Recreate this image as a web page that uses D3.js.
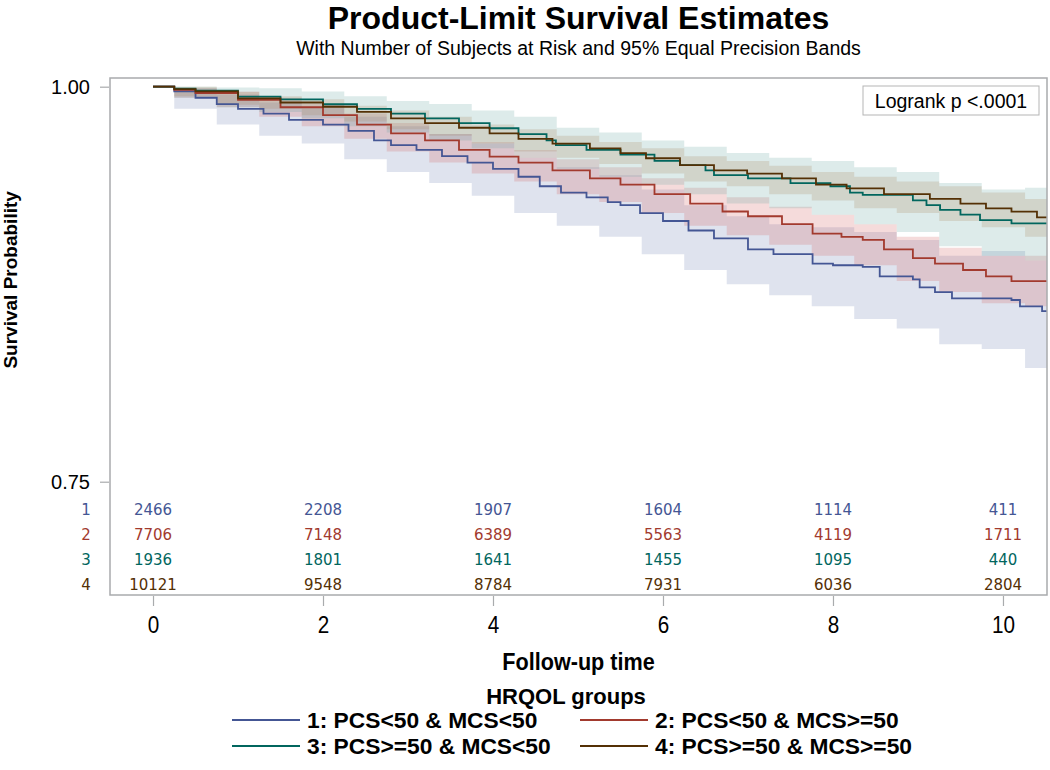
<!DOCTYPE html>
<html>
<head>
<meta charset="utf-8">
<script src="https://cdn.jsdelivr.net/npm/d3@7"></script>
<style>
  html, body { margin: 0; padding: 0; background: #fff; }
  svg { display: block; }
</style>
</head>
<body>
<svg id="chart" width="1050" height="770"></svg>
<script>
// ---------------- data ----------------
const groupIds = ["1", "2", "3", "4"];
const groupLabels = ["1: PCS<50 & MCS<50", "2: PCS<50 & MCS>=50", "3: PCS>=50 & MCS<50", "4: PCS>=50 & MCS>=50"];
const groupColors = ["#445694", "#A23A2E", "#01665E", "#543005"];
const bandColors = ["#6F7EB3", "#D05B5B", "#66A5A0", "#A9865B"];

const xTicks = [0, 2, 4, 6, 8, 10];
const yTicks = [0.75, 1.00];

// Number at risk at each x tick
const risk1 = [2466, 2208, 1907, 1604, 1114, 411];
const risk2 = [7706, 7148, 6389, 5563, 4119, 1711];
const risk3 = [1936, 1801, 1641, 1455, 1095, 440];
const risk4 = [10121, 9548, 8784, 7931, 6036, 2804];

// Kaplan-Meier step estimates (time, survival)
const time1 = [0, 0.25, 0.5, 0.75, 1.0, 1.3, 1.6, 2.0, 2.3, 2.6, 2.8, 3.1, 3.4, 3.7, 4.0, 4.3, 4.55, 4.8, 5.1, 5.35, 5.5, 5.73, 6.0, 6.3, 6.6, 7.0, 7.3, 7.76, 8.0, 8.35, 8.55, 8.94, 9.02, 9.2, 9.4, 10.1, 10.2, 10.46, 10.52];
const surv1 = [1.0, 0.997, 0.993, 0.989, 0.986, 0.983, 0.979, 0.976, 0.972, 0.966, 0.963, 0.960, 0.956, 0.952, 0.948, 0.943, 0.937, 0.933, 0.930, 0.927, 0.925, 0.920, 0.915, 0.909, 0.904, 0.897, 0.894, 0.888, 0.887, 0.886, 0.880, 0.878, 0.873, 0.870, 0.866, 0.865, 0.861, 0.858, 0.858];

const time2 = [0, 0.25, 0.5, 1.0, 1.5, 2.0, 2.4, 2.8, 3.2, 3.6, 3.96, 4.3, 4.7, 5.14, 5.5, 5.9, 6.32, 6.7, 7.0, 7.4, 7.76, 8.1, 8.35, 8.6, 8.94, 9.2, 9.53, 9.8, 10.1, 10.52];
const surv2 = [1.0, 0.998, 0.996, 0.9916, 0.987, 0.982, 0.976, 0.9705, 0.966, 0.960, 0.9557, 0.952, 0.947, 0.942, 0.938, 0.932, 0.926, 0.921, 0.918, 0.913, 0.907, 0.905, 0.903, 0.897, 0.8915, 0.888, 0.884, 0.880, 0.877, 0.8766];

const time3 = [0, 0.25, 0.5, 1.0, 1.5, 2.0, 2.4, 2.8, 3.2, 3.6, 3.96, 4.3, 4.63, 4.74, 5.1, 5.5, 5.9, 6.2, 6.5, 6.6, 7.0, 7.5, 7.97, 8.2, 8.35, 8.94, 9.1, 9.26, 9.5, 9.73, 10.1, 10.52];
const surv3 = [1.0, 0.9988, 0.9975, 0.9937, 0.992, 0.9889, 0.986, 0.983, 0.980, 0.977, 0.9737, 0.970, 0.966, 0.963, 0.960, 0.957, 0.953, 0.9504, 0.947, 0.944, 0.942, 0.939, 0.937, 0.933, 0.9315, 0.928, 0.925, 0.922, 0.919, 0.9156, 0.9135, 0.9135];

const time4 = [0, 0.25, 0.5, 1.0, 1.5, 2.0, 2.4, 2.8, 3.2, 3.6, 3.96, 4.3, 4.7, 5.14, 5.5, 5.8, 6.2, 6.6, 6.99, 7.4, 7.8, 8.16, 8.6, 9.14, 9.5, 9.8, 10.1, 10.4, 10.52];
const surv4 = [1.0, 0.9985, 0.997, 0.9926, 0.990, 0.9873, 0.984, 0.980, 0.977, 0.974, 0.9705, 0.967, 0.964, 0.961, 0.958, 0.9547, 0.9504, 0.947, 0.945, 0.942, 0.938, 0.9357, 0.932, 0.929, 0.926, 0.923, 0.9209, 0.9173, 0.9173];

// 95% equal precision bands (lower / upper) read on a common time grid
const bandTime = [0, 0.5, 1, 1.5, 2, 2.5, 3, 3.5, 4, 4.5, 5, 5.5, 6, 6.5, 7, 7.5, 8, 8.5, 9, 9.5, 10, 10.52];
const lower1 = [1.0, 0.986, 0.976, 0.969, 0.964, 0.954, 0.946, 0.939, 0.931, 0.920, 0.912, 0.905, 0.894, 0.884, 0.875, 0.868, 0.861, 0.853, 0.847, 0.837, 0.834, 0.822];
const upper1 = [1.0, 0.999, 0.995, 0.990, 0.987, 0.981, 0.975, 0.970, 0.964, 0.955, 0.949, 0.944, 0.935, 0.925, 0.918, 0.913, 0.911, 0.908, 0.903, 0.893, 0.896, 0.890];
const lower2 = [1.0, 0.993, 0.987, 0.981, 0.975, 0.967, 0.959, 0.952, 0.945, 0.940, 0.932, 0.927, 0.920, 0.912, 0.906, 0.900, 0.893, 0.887, 0.877, 0.870, 0.863, 0.861];
const upper2 = [1.0, 0.999, 0.997, 0.993, 0.989, 0.983, 0.977, 0.970, 0.965, 0.960, 0.954, 0.949, 0.942, 0.936, 0.930, 0.924, 0.919, 0.913, 0.905, 0.898, 0.893, 0.893];
const lower3 = [1.0, 0.993, 0.987, 0.984, 0.980, 0.975, 0.971, 0.966, 0.961, 0.955, 0.948, 0.943, 0.938, 0.932, 0.926, 0.923, 0.919, 0.913, 0.908, 0.899, 0.893, 0.890];
const upper3 = [1.0, 1.0, 0.9995, 0.999, 0.997, 0.994, 0.991, 0.989, 0.985, 0.981, 0.974, 0.971, 0.966, 0.962, 0.958, 0.955, 0.953, 0.949, 0.946, 0.939, 0.935, 0.936];
const lower4 = [1.0, 0.994, 0.9886, 0.986, 0.982, 0.978, 0.973, 0.969, 0.964, 0.959, 0.955, 0.951, 0.945, 0.940, 0.937, 0.932, 0.928, 0.923, 0.920, 0.915, 0.911, 0.905];
const upper4 = [1.0, 1.0, 0.9966, 0.994, 0.992, 0.988, 0.985, 0.981, 0.976, 0.973, 0.969, 0.965, 0.961, 0.956, 0.953, 0.950, 0.946, 0.943, 0.940, 0.937, 0.933, 0.929];

const titleText = "Product-Limit Survival Estimates";
const subtitleText = "With Number of Subjects at Risk and 95% Equal Precision Bands";
const xLabel = "Follow-up time";
const yLabel = "Survival Probability";
const legendTitle = "HRQOL groups";
const insetText = "Logrank p <.0001";

// ---------------- layout ----------------
const svg = d3.select("#chart");
const plot = { left: 110, right: 1047, top: 78, bottom: 595 };
const x = d3.scaleLinear().domain([-0.506, 10.518]).range([plot.left, plot.right]);
const y = d3.scaleLinear().domain([0.6783, 1.0055]).range([plot.bottom, plot.top]);
const sans = "'Liberation Sans', Arial, Helvetica, sans-serif";

const groups = [
  { t: time1, s: surv1, lo: lower1, up: upper1, risk: risk1 },
  { t: time2, s: surv2, lo: lower2, up: upper2, risk: risk2 },
  { t: time3, s: surv3, lo: lower3, up: upper3, risk: risk3 },
  { t: time4, s: surv4, lo: lower4, up: upper4, risk: risk4 }
];

// bold text helper with horizontal scaling
function boldText(parent, tx, ty, txt, size, anchor, sx) {
  return parent.append("text")
    .attr("transform", `translate(${tx},${ty}) scale(${sx},1)`)
    .attr("dy", "0.35em").attr("text-anchor", anchor)
    .style("font-family", sans).style("font-weight", "bold").style("font-size", size + "px")
    .text(txt);
}

svg.append("defs").append("clipPath").attr("id", "clip")
  .append("rect").attr("x", plot.left).attr("y", plot.top)
  .attr("width", plot.right - plot.left).attr("height", plot.bottom - plot.top);

// Titles
const titleX = (plot.left + plot.right) / 2;
svg.append("text").attr("x", titleX).attr("y", 29).attr("text-anchor", "middle")
  .style("font-family", sans).style("font-weight", "bold").style("font-size", "32px")
  .text(titleText);
svg.append("text").attr("x", titleX).attr("y", 55).attr("text-anchor", "middle")
  .style("font-family", sans).style("font-size", "19.5px")
  .text(subtitleText);

// Bands
const gBands = svg.append("g").attr("clip-path", "url(#clip)");
const area = d3.area()
  .x(d => x(d.t)).y0(d => y(d.lo)).y1(d => y(d.up))
  .curve(d3.curveStep);
groups.forEach((g, i) => {
  const pts = bandTime.map((t, k) => ({ t: t, lo: g.lo[k], up: g.up[k] }));
  gBands.append("path").datum(pts).attr("d", area)
    .attr("fill", bandColors[i]).attr("fill-opacity", 0.22).attr("stroke", "none");
});

// Curves
const line = d3.line().x(d => x(d.t)).y(d => y(d.s)).curve(d3.curveStepAfter);
const gLines = svg.append("g").attr("clip-path", "url(#clip)");
groups.forEach((g, i) => {
  const pts = g.t.map((t, k) => ({ t: t, s: g.s[k] }));
  gLines.append("path").datum(pts).attr("d", line)
    .attr("fill", "none").attr("stroke", groupColors[i]).attr("stroke-width", 1.8);
});

// Frame
svg.append("rect").attr("x", plot.left).attr("y", plot.top)
  .attr("width", plot.right - plot.left).attr("height", plot.bottom - plot.top)
  .attr("fill", "none").attr("stroke", "#a9abad").attr("stroke-width", 1.5);

// Y axis
const yAxis = d3.axisLeft(y).tickValues(yTicks).tickFormat(d3.format(".2f")).tickSize(9).tickPadding(10);
const gy = svg.append("g").attr("transform", `translate(${plot.left - 1},0)`).call(yAxis);
gy.select(".domain").remove();
gy.selectAll(".tick line").attr("stroke", "#a9abad").attr("stroke-width", 1.2);
gy.selectAll(".tick text").style("font-family", sans).style("font-size", "20px").attr("fill", "#000");

// X axis
const xAxis = d3.axisBottom(x).tickValues(xTicks).tickFormat(d3.format("d")).tickSize(10).tickPadding(11);
const gx = svg.append("g").attr("transform", `translate(0,${plot.bottom + 1})`).call(xAxis);
gx.select(".domain").remove();
gx.selectAll(".tick line").attr("stroke", "#a9abad").attr("stroke-width", 1.2);
gx.selectAll(".tick text").style("font-family", sans).style("font-size", "23px")
  .attr("transform", "scale(0.9,1)").attr("fill", "#000");

// Axis labels
boldText(svg, titleX, 662, xLabel, 24, "middle", 0.9);
svg.append("text").attr("transform", `translate(17,${(plot.top + y(0.75)) / 2}) rotate(-90)`)
  .attr("text-anchor", "middle").style("font-family", sans)
  .style("font-weight", "bold").style("font-size", "19px").text(yLabel);

// Risk table
const rowY = d3.scalePoint().domain(groupIds).range([510, 585]);
groups.forEach((g, i) => {
  svg.append("text").attr("x", 86).attr("y", rowY(groupIds[i])).attr("dy", "0.35em")
    .attr("text-anchor", "middle").attr("fill", groupColors[i])
    .style("font-family", "'DejaVu Sans', sans-serif").style("font-size", "15px").text(groupIds[i]);
  svg.append("g").selectAll("text").data(g.risk).join("text")
    .attr("x", (d, k) => x(xTicks[k])).attr("y", rowY(groupIds[i])).attr("dy", "0.35em")
    .attr("text-anchor", "middle").attr("fill", groupColors[i])
    .style("font-family", "'DejaVu Sans', sans-serif").style("font-size", "15px")
    .text(d => d);
});

// Logrank inset
svg.append("rect").attr("x", 863).attr("y", 86).attr("width", 176).attr("height", 29)
  .attr("fill", "#fff").attr("stroke", "#b5b5b5").attr("stroke-width", 1);
svg.append("text").attr("x", 951).attr("y", 101).attr("dy", "0.35em").attr("text-anchor", "middle")
  .style("font-family", sans).style("font-size", "19.5px").text(insetText);

// Legend
boldText(svg, 566, 696, legendTitle, 22, "middle", 1.0);
const legendPos = [[232, 720], [580, 720], [232, 746], [580, 746]];
groupLabels.forEach((lab, i) => {
  const [lx, ly] = legendPos[i];
  svg.append("line").attr("x1", lx).attr("x2", lx + 68).attr("y1", ly).attr("y2", ly)
    .attr("stroke", groupColors[i]).attr("stroke-width", 2);
  boldText(svg, lx + 75, ly, lab, 21.5, "start", 1.06);
});
</script>
</body>
</html>
